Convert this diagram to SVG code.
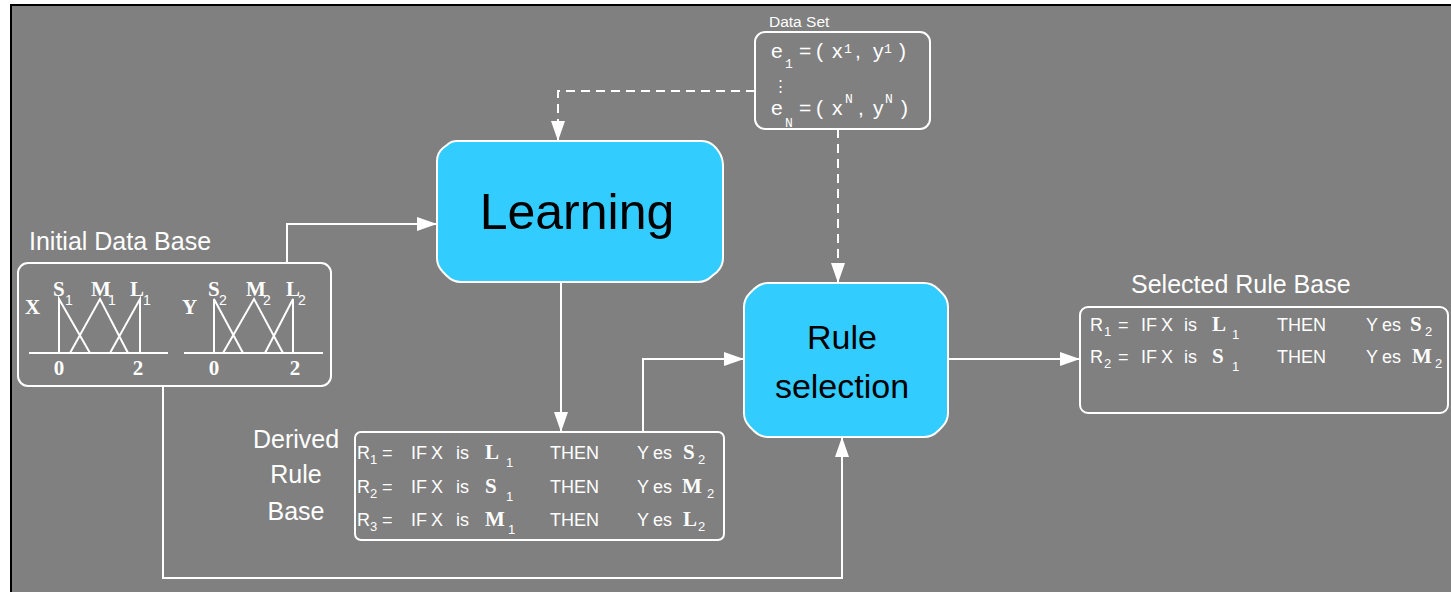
<svg xmlns="http://www.w3.org/2000/svg" width="1451" height="592" viewBox="0 0 1451 592">
<style>
.t{fill:#fff;font-family:"Liberation Sans",Arial,sans-serif}
.r{font-size:18px}
.s{font-size:13px}
.b{fill:#fff;font-family:"Liberation Serif","Times New Roman",serif;font-weight:bold;font-size:21px}
.lb{font-size:25px}
.box{fill:none;stroke:#fff;stroke-width:2}
.proc{fill:#33CCFF;stroke:#fff;stroke-width:2}
.c{fill:none;stroke:#fff;stroke-width:2}
.d{fill:none;stroke:#fff;stroke-width:2;stroke-dasharray:9 6}
.mf{fill:none;stroke:#fff;stroke-width:2}
.m{font-size:13px;fill:#fff;font-family:"Liberation Mono","Courier New",monospace}
.ds{font-size:21px}
.k{fill:#000;font-family:"Liberation Sans",Arial,sans-serif;text-anchor:middle}
</style>
<defs>
<marker id="ah" markerUnits="userSpaceOnUse" markerWidth="22" markerHeight="16" refX="20" refY="7" orient="auto">
<path d="M0,0 L20,7 L0,14 z" fill="#fff"/>
</marker>
</defs>
<rect x="0" y="0" width="1451" height="592" fill="#fff"/>
<rect x="11" y="5" width="1460" height="600" fill="#808080" stroke="#000" stroke-width="2"/>

<g id="connectors">
<path class="d" d="M755,91 H558 V141" marker-end="url(#ah)"/>
<path class="d" d="M838,129 V283" marker-end="url(#ah)"/>
<path class="c" d="M287,263 V224 H437" marker-end="url(#ah)"/>
<path class="c" d="M163,386 V578 H842 V437" marker-end="url(#ah)"/>
<path class="c" d="M561,282 V432" marker-end="url(#ah)"/>
<path class="c" d="M643,432 V359 H744" marker-end="url(#ah)"/>
<path class="c" d="M948,359 H1080" marker-end="url(#ah)"/>
</g>

<g id="data-set">
<text class="t" x="769" y="27" font-size="15.5">Data Set</text>
<rect class="box" x="755" y="32" width="175" height="97" rx="10"/>
<text class="t ds" x="771" y="58">e</text>
<text class="m" x="785" y="68">1</text>
<text class="t ds" x="799" y="58">=</text>
<text class="t ds" x="816" y="58">(</text>
<text class="t ds" x="832" y="58">x</text>
<text class="m" x="844" y="53">1</text>
<text class="t ds" x="855" y="58">,</text>
<text class="t ds" x="873" y="58">y</text>
<text class="m" x="884" y="53">1</text>
<text class="t ds" x="899" y="58">)</text>
<text class="t" x="773" y="91" font-size="15" font-family="DejaVu Sans,sans-serif">⋮</text>
<text class="t ds" x="771" y="115">e</text>
<text class="m" x="785" y="127">N</text>
<text class="t ds" x="799" y="115">=</text>
<text class="t ds" x="816" y="115">(</text>
<text class="t ds" x="832" y="115">x</text>
<text class="m" x="845" y="103">N</text>
<text class="t ds" x="858" y="115">,</text>
<text class="t ds" x="873" y="115">y</text>
<text class="m" x="885" y="103">N</text>
<text class="t ds" x="901" y="115">)</text>
</g>

<g id="learning">
<path class="proc" d="M457,141 H702 Q710,141 716,148 L719,152 Q723,158 723,166 V258 Q723,266 717,272 L712,276 Q706,282 698,282 H461 Q453,282 447,276 L443,272 Q437,266 437,258 V161 Q437,153 443,148 L447,145 Q451,141 457,141 Z"/>
<text class="k" x="577" y="229" font-size="50">Learning</text>
</g>

<g id="rule-selection">
<path class="proc" d="M768,283 H924 Q932,283 938,289 L942,293 Q948,299 948,307 V413 Q948,421 942,427 L938,431 Q932,437 924,437 H768 Q760,437 754,431 L750,427 Q744,421 744,413 V307 Q744,299 750,293 L754,289 Q760,283 768,283 Z"/>
<text class="k" x="842" y="349" font-size="34">Rule</text>
<text class="k" x="842" y="398" font-size="34">selection</text>
</g>

<g id="initial-data-base">
<text class="t lb" x="29" y="250">Initial Data Base</text>
<rect class="box" x="18" y="263" width="313" height="123" rx="10"/>
<path class="mf" d="M29,353 H168 M59,353 V299 L90,353 M70,353 L100,299 L128,353 M110,353 L140,299 V353"/>
<path class="mf" d="M184,353 H323 M214,353 V299 L243,353 M223,353 L254,299 L283,353 M265,353 L293,299 V353"/>
<text class="b" x="25" y="314" font-size="17">X</text>
<text class="b" x="53" y="296" font-size="18">S</text>
<text class="t" x="65" y="305" font-size="14">1</text>
<text class="b" x="91" y="296" font-size="18">M</text>
<text class="t" x="108" y="305" font-size="14">1</text>
<text class="b" x="130" y="296" font-size="18">L</text>
<text class="t" x="143" y="305" font-size="14">1</text>
<text class="b" x="182" y="314" font-size="17">Y</text>
<text class="b" x="208" y="296" font-size="18">S</text>
<text class="t" x="219" y="305" font-size="14">2</text>
<text class="b" x="246" y="296" font-size="18">M</text>
<text class="t" x="263" y="305" font-size="14">2</text>
<text class="b" x="286" y="296" font-size="18">L</text>
<text class="t" x="298" y="305" font-size="14">2</text>
<text class="b" x="59" y="375" font-size="17" text-anchor="middle">0</text>
<text class="b" x="138" y="375" font-size="17" text-anchor="middle">2</text>
<text class="b" x="214" y="375" font-size="17" text-anchor="middle">0</text>
<text class="b" x="295" y="375" font-size="17" text-anchor="middle">2</text>
</g>

<g id="derived-rule-base">
<text class="t lb" x="296" y="448" text-anchor="middle">Derived</text>
<text class="t lb" x="296" y="483" text-anchor="middle">Rule</text>
<text class="t lb" x="296" y="520" text-anchor="middle">Base</text>
<rect class="box" x="355" y="432" width="369" height="108" rx="6"/>
<g>
<text class="t r" x="357" y="459">R</text><text class="t s" x="370" y="464">1</text>
<text class="t r" x="382" y="459">=</text><text class="t r" x="411" y="459">IF</text><text class="t r" x="431" y="459">X</text><text class="t r" x="456" y="459">is</text>
<text class="b" x="485" y="459">L</text><text class="t s" x="506" y="467">1</text>
<text class="t r" x="550" y="459">THEN</text>
<text class="t r" x="637" y="459">Y</text><text class="t r" x="653" y="459">es</text>
<text class="b" x="683" y="459">S</text><text class="t s" x="698" y="464">2</text>
</g>
<g>
<text class="t r" x="357" y="493">R</text><text class="t s" x="370" y="498">2</text>
<text class="t r" x="382" y="493">=</text><text class="t r" x="411" y="493">IF</text><text class="t r" x="431" y="493">X</text><text class="t r" x="456" y="493">is</text>
<text class="b" x="485" y="493">S</text><text class="t s" x="506" y="501">1</text>
<text class="t r" x="550" y="493">THEN</text>
<text class="t r" x="637" y="493">Y</text><text class="t r" x="653" y="493">es</text>
<text class="b" x="682" y="493">M</text><text class="t s" x="707" y="498">2</text>
</g>
<g>
<text class="t r" x="357" y="526">R</text><text class="t s" x="370" y="531">3</text>
<text class="t r" x="382" y="526">=</text><text class="t r" x="411" y="526">IF</text><text class="t r" x="431" y="526">X</text><text class="t r" x="456" y="526">is</text>
<text class="b" x="485" y="526">M</text><text class="t s" x="508" y="534">1</text>
<text class="t r" x="550" y="526">THEN</text>
<text class="t r" x="637" y="526">Y</text><text class="t r" x="653" y="526">es</text>
<text class="b" x="683" y="526">L</text><text class="t s" x="698" y="531">2</text>
</g>
</g>

<g id="selected-rule-base">
<text class="t lb" x="1131" y="293">Selected Rule Base</text>
<rect class="box" x="1080" y="307" width="368" height="106" rx="8"/>
<g>
<text class="t r" x="1090" y="331">R</text><text class="t s" x="1104" y="336">1</text>
<text class="t r" x="1118" y="331">=</text><text class="t r" x="1141" y="331">IF</text><text class="t r" x="1161" y="331">X</text><text class="t r" x="1184" y="331">is</text>
<text class="b" x="1212" y="331">L</text><text class="t s" x="1232" y="339">1</text>
<text class="t r" x="1277" y="331">THEN</text>
<text class="t r" x="1366" y="331">Y</text><text class="t r" x="1382" y="331">es</text>
<text class="b" x="1410" y="331">S</text><text class="t s" x="1425" y="336">2</text>
</g>
<g>
<text class="t r" x="1090" y="363">R</text><text class="t s" x="1104" y="368">2</text>
<text class="t r" x="1118" y="363">=</text><text class="t r" x="1141" y="363">IF</text><text class="t r" x="1161" y="363">X</text><text class="t r" x="1184" y="363">is</text>
<text class="b" x="1212" y="363">S</text><text class="t s" x="1232" y="371">1</text>
<text class="t r" x="1277" y="363">THEN</text>
<text class="t r" x="1366" y="363">Y</text><text class="t r" x="1382" y="363">es</text>
<text class="b" x="1412" y="363">M</text><text class="t s" x="1435" y="368">2</text>
</g>
</g>
</svg>
